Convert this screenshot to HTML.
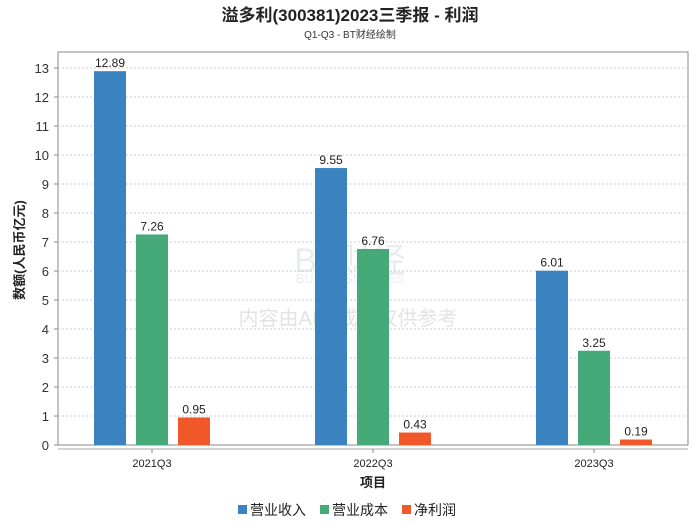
<!DOCTYPE html>
<html><head><meta charset="utf-8"><style>
body{margin:0;background:#fff;}
svg text{font-family:"Liberation Sans","Noto Sans CJK SC",sans-serif;}
</style></head><body>
<svg width="700" height="524" xmlns="http://www.w3.org/2000/svg">
<text x="350" y="21" text-anchor="middle" font-size="17" font-weight="bold" fill="#222">溢多利(300381)2023三季报 - 利润</text>
<text x="350" y="38" text-anchor="middle" font-size="10" fill="#333">Q1-Q3 - BT财经绘制</text>
<g opacity="0.18">
<text x="350" y="272" text-anchor="middle" font-size="34" fill="#8899aa" font-family="Liberation Serif">BT财经</text>
<text x="350" y="283" text-anchor="middle" font-size="13" fill="#8899aa">BUSINESS TIMES</text>
<text x="348" y="325" text-anchor="middle" font-size="20" fill="#666">内容由AI生成，仅供参考</text>
</g>
<rect x="58" y="52" width="630" height="393" fill="none" stroke="#888"/>
<g id="grid"></g><g id="bars"></g><g id="axes"></g>
<text transform="translate(24,250) rotate(-90)" text-anchor="middle" font-size="13" font-weight="bold" fill="#222">数额(人民币亿元)</text>
<text x="373" y="487" text-anchor="middle" font-size="13" font-weight="bold" fill="#222">项目</text>
<g font-size="14">
<rect x="238" y="505" width="9" height="9" fill="#3a82c0"/><text x="250" y="515" fill="#222">营业收入</text>
<rect x="320" y="505" width="9" height="9" fill="#46a978"/><text x="332" y="515" fill="#222">营业成本</text>
<rect x="402" y="505" width="9" height="9" fill="#f0582a"/><text x="414" y="515" fill="#222">净利润</text>
</g>
</svg>
<script>
const categories=["2021Q3","2022Q3","2023Q3"];
const revenue=[12.89,9.55,6.01];
const cost=[7.26,6.76,3.25];
const profit=[0.95,0.43,0.19];
const yTicks=[0,1,2,3,4,5,6,7,8,9,10,11,12,13];
const NS="http://www.w3.org/2000/svg";
const y0=445,unit=29;
const yS=v=>y0-v*unit;
const xC=i=>152+i*221;
function mk(tag,attrs,parent){const e=document.createElementNS(NS,tag);for(const k in attrs)e.setAttribute(k,attrs[k]);parent.appendChild(e);return e;}
const grid=document.getElementById('grid'),bars=document.getElementById('bars'),axes=document.getElementById('axes');
yTicks.forEach(t=>{
 if(t>0){const l=mk('line',{x1:58,x2:688,y1:yS(t),y2:yS(t),stroke:'#ccc','stroke-dasharray':'2,2'},grid);
 
 }
 const tk=mk('line',{x1:54,x2:58,y1:yS(t),y2:yS(t),stroke:'#888'},axes);
 
 
 const tx=mk('text',{x:49,y:yS(t)+5,'text-anchor':'end','font-size':13,fill:'#333'},axes);
 tx.textContent=t;
 
 
});
const xl=mk('line',{x1:58,x2:688,y1:449,y2:449,stroke:'#aaa'},axes);


const series=[[revenue,'#3a82c0',-42],[cost,'#46a978',0],[profit,'#f0582a',42]];
categories.forEach((c,i)=>{
 const t=mk('text',{x:xC(i),y:467,'text-anchor':'middle','font-size':11,fill:'#222'},axes);
 t.textContent=c;
 
 
 const tk=mk('line',{x1:xC(i),x2:xC(i),y1:449,y2:453,stroke:'#888'},axes);
 
 
 series.forEach(([arr,col,off])=>{
  const v=arr[i],cx=xC(i)+off;
  const r=mk('rect',{x:cx-16,y:yS(v),width:32,height:v*unit,fill:col},bars);
  
  
  const lb=mk('text',{x:cx,y:yS(v)-4,'text-anchor':'middle','font-size':12,fill:'#222'},bars);
  lb.textContent=v.toFixed(2);
  
  
 });
});
</script>
</body></html>
